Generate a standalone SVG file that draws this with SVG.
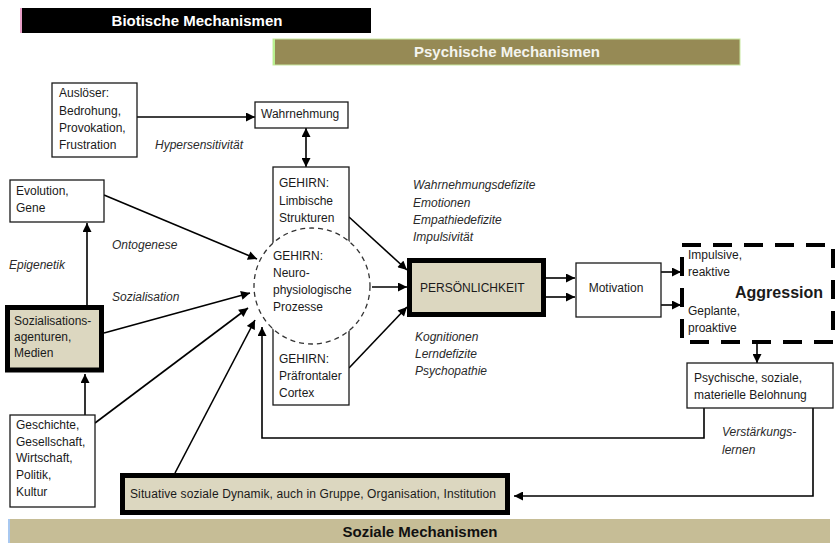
<svg xmlns="http://www.w3.org/2000/svg" width="836" height="543" viewBox="0 0 836 543">
<defs>
<marker id="ah" viewBox="0 0 10 10" refX="10" refY="5" markerUnits="userSpaceOnUse" markerWidth="10" markerHeight="9" orient="auto-start-reverse">
<path d="M0,0 L10,5 L0,10 z" fill="#000"/>
</marker>
<style>
text{font-family:"Liberation Sans",Arial,sans-serif;font-size:12px;fill:#1a1a1a}
.it{font-style:italic;fill:#2a2a2a}
.bn{font-weight:bold;font-size:15px}
.box{fill:#fff;stroke:#1a1a1a;stroke-width:1.3}
.thick{fill:#dcd7c0;stroke:#000;stroke-width:5}
.con{fill:none;stroke:#000;stroke-width:1.6}
.arr{marker-end:url(#ah)}
</style>
</defs>
<rect width="836" height="543" fill="#fff"/>

<g id="banner-biotisch">
<rect x="20" y="8" width="351" height="25" fill="#000"/>
<rect x="20" y="8" width="2" height="25" fill="#e8a0c8"/>
<text class="bn" x="197" y="26" text-anchor="middle" style="fill:#fff">Biotische Mechanismen</text>
</g>
<g id="banner-psychisch">
<rect x="273" y="39" width="467" height="26" fill="#968a55" stroke="#c8e8a0" stroke-width="1"/>
<rect x="273" y="39" width="2" height="26" fill="#b8f090"/>
<text class="bn" x="414" y="57" style="fill:#f4f4ee">Psychische Mechanismen</text>
</g>
<g id="banner-sozial">
<rect x="8" y="519" width="822" height="24" fill="#c6bd96"/>
<rect x="8" y="519" width="2" height="24" fill="#a8c8f0"/>
<text class="bn" x="420" y="537" text-anchor="middle" style="fill:#111">Soziale Mechanismen</text>
</g>

<g id="connectors">
<path class="con arr" d="M137,117 L255,117"/>
<path class="con" d="M306,128 L306,167" marker-start="url(#ah)" marker-end="url(#ah)"/>
<path class="con arr" d="M104,195 L257,259"/>
<path class="con arr" d="M87,305 L87,223"/>
<path class="con arr" d="M104,333 L250,293"/>
<path class="con arr" d="M85,415 L85,374"/>
<path class="con arr" d="M95,423 L248,308"/>
<path class="con arr" d="M175,473 L255,320"/>
<path class="con arr" d="M704,408 L704,438 L262,438 L262,327"/>
<path class="con arr" d="M349,217 L407,270"/>
<path class="con arr" d="M372,287 L407,287"/>
<path class="con arr" d="M349,368 L407,307"/>
<path class="con arr" d="M546,278 L575,278"/>
<path class="con arr" d="M546,297 L575,297"/>
<path class="con arr" d="M661,272 L681,272"/>
<path class="con arr" d="M661,305 L681,305"/>
<path class="con arr" d="M757,343 L757,363"/>
<path class="con arr" d="M813,408 L813,496 L514,496"/>
</g>

<g id="ausloeser">
<rect class="box" x="52" y="83" width="85" height="74"/>
<text x="59" y="97">Auslöser:</text>
<text x="59" y="115">Bedrohung,</text>
<text x="59" y="132">Provokation,</text>
<text x="59" y="149">Frustration</text>
</g>
<g id="wahrnehmung">
<rect class="box" x="255" y="102" width="93" height="26"/>
<text x="261" y="118">Wahrnehmung</text>
</g>
<text class="it" x="155" y="149">Hypersensitivität</text>

<g id="evolution">
<rect class="box" x="10" y="180" width="94" height="42"/>
<text x="16" y="195">Evolution,</text>
<text x="16" y="212">Gene</text>
</g>
<text class="it" x="112" y="249">Ontogenese</text>
<text class="it" x="9" y="269">Epigenetik</text>
<text class="it" x="112" y="301">Sozialisation</text>

<g id="sozialisationsagenturen">
<rect class="thick" x="7.5" y="307.5" width="94" height="62.5"/>
<text x="14" y="325">Sozialisations-</text>
<text x="14" y="341">agenturen,</text>
<text x="14" y="357">Medien</text>
</g>

<g id="geschichte">
<rect class="box" x="10" y="415" width="85" height="92"/>
<text x="16" y="429">Geschichte,</text>
<text x="16" y="446">Gesellschaft,</text>
<text x="16" y="462">Wirtschaft,</text>
<text x="16" y="479">Politik,</text>
<text x="16" y="496">Kultur</text>
</g>

<g id="gehirn">
<rect class="box" x="273" y="167" width="76" height="238"/>
<text x="279" y="187">GEHIRN:</text>
<text x="279" y="205">Limbische</text>
<text x="279" y="222">Strukturen</text>
<text x="279" y="363">GEHIRN:</text>
<text x="279" y="380">Präfrontaler</text>
<text x="279" y="397">Cortex</text>
</g>
<g id="neurophysiologie">
<circle cx="312" cy="286" r="58" fill="#fff" stroke="#333" stroke-width="1.3" stroke-dasharray="5,4"/>
<text x="273" y="260">GEHIRN:</text>
<text x="273" y="277">Neuro-</text>
<text x="273" y="294">physiologische</text>
<text x="273" y="311">Prozesse</text>
</g>

<g id="defizite-oben">
<text class="it" x="413" y="189">Wahrnehmungsdefizite</text>
<text class="it" x="413" y="207">Emotionen</text>
<text class="it" x="413" y="224">Empathiedefizite</text>
<text class="it" x="413" y="241">Impulsivität</text>
</g>
<g id="persoenlichkeit">
<rect class="thick" x="409.5" y="260.5" width="134" height="54"/>
<text x="420" y="292">PERSÖNLICHKEIT</text>
</g>
<g id="defizite-unten">
<text class="it" x="415" y="341">Kognitionen</text>
<text class="it" x="415" y="358">Lerndefizite</text>
<text class="it" x="415" y="375">Psychopathie</text>
</g>

<g id="motivation">
<rect class="box" x="576" y="263" width="85" height="54"/>
<text x="616" y="292" text-anchor="middle">Motivation</text>
</g>

<g id="aggression">
<rect x="682" y="245" width="151" height="97" fill="none" stroke="#000" stroke-width="4" stroke-dasharray="19,12"/>
<text x="688" y="259">Impulsive,</text>
<text x="688" y="276">reaktive</text>
<text x="735" y="298" style="font-weight:bold;font-size:16px">Aggression</text>
<text x="688" y="315">Geplante,</text>
<text x="688" y="332">proaktive</text>
</g>

<g id="belohnung">
<rect class="box" x="687" y="363" width="146" height="45"/>
<text x="694" y="382">Psychische, soziale,</text>
<text x="694" y="399">materielle Belohnung</text>
</g>
<text class="it" x="722" y="436">Verstärkungs-</text>
<text class="it" x="722" y="454">lernen</text>

<g id="situative">
<rect class="thick" x="122.5" y="475.5" width="385" height="37"/>
<text x="130" y="498" textLength="366" lengthAdjust="spacing">Situative soziale Dynamik, auch in Gruppe, Organisation, Institution</text>
</g>
</svg>
